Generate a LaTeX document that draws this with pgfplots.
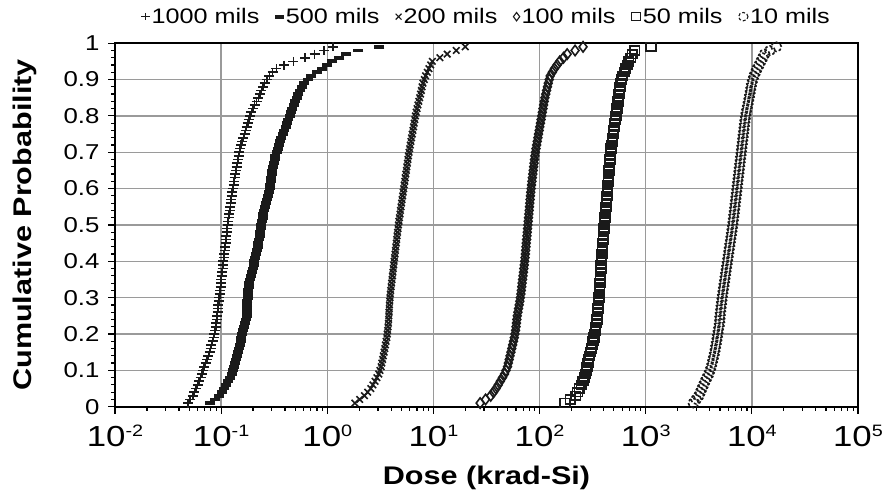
\documentclass[border=0pt]{standalone}
\usepackage{fontspec}
\setmainfont{Liberation Sans}[FakeStretch=1.2]
\usepackage{pgfplots}
\pgfplotsset{compat=1.18}
\definecolor{gridgray}{HTML}{9A9A9A}
\definecolor{markc}{HTML}{1A1A1A}
\newcommand{\tn}[1]{10\raisebox{10bp}{\fontsize{16.5bp}{16.5bp}\selectfont #1}}
\begin{document}
\begin{tikzpicture}
\useasboundingbox (0,0) rectangle (887bp,497bp);
\begin{axis}[
  at={(115bp,90.3bp)}, anchor=south west,
  scale only axis, width=743bp, height=363.5bp,
  xmode=log, xmin=1e-2, xmax=1e5, ymin=0, ymax=1,
  xtick={1e-2,1e-1,1e0,1e1,1e2,1e3,1e4,1e5},
  xticklabels={\tn{-2},\tn{-1},\tn{0},\tn{1},\tn{2},\tn{3},\tn{4},\tn{5}},
  ytick={0,0.1,0.2,0.3,0.4,0.5,0.6,0.7,0.8,0.9,1},
  yticklabels={0,0.1,0.2,0.3,0.4,0.5,0.6,0.7,0.8,0.9,1},
  minor y tick num=4,
  xtick pos=bottom, ytick pos=left,
  tick align=outside,
  major tick length=7bp, minor tick length=4bp,
  every tick/.style={black, line width=1.2bp},
  grid=major,
  major grid style={gridgray, line width=1.3bp},
  axis line style={black, line width=1.8bp},
  xticklabel style={font=\fontsize{29bp}{29bp}\selectfont, yshift=-8bp},
  yticklabel style={font=\fontsize{21.5bp}{21.5bp}\selectfont, xshift=-5bp},
  xlabel={Dose (krad-Si)},
  ylabel={Cumulative Probability},
  xlabel style={font=\fontsize{25.5bp}{25.5bp}\selectfont\bfseries, at={(axis description cs:0.5,-0.195)}, anchor=center},
  ylabel style={font=\fontsize{25.5bp}{25.5bp}\selectfont\bfseries, at={(axis description cs:-0.121,0.5)}, anchor=center},
  legend columns=6,
  legend style={draw=none, fill=none, at={(0.5,1)}, anchor=south, yshift=14bp,
    font=\fontsize{21bp}{21bp}\selectfont,
    /tikz/every even column/.append style={column sep=14bp},
    nodes={inner sep=2bp}},
  legend image code/.code={\draw[mark repeat=2,mark phase=2,#1,mark size=4.2bp,line width=1.1bp] plot coordinates {(0bp,0bp)(6bp,0bp)(12bp,0bp)};},
  every axis plot/.append style={only marks, markc, line width=1.6bp},
]
% 1000 mils
\addplot+[mark=+, mark size=5bp, mark options={markc, yscale=0.9}] coordinates {
(0.049,0.01)(0.051,0.02)(0.054,0.03)(0.056,0.04)(0.058,0.05)(0.060,0.06)(0.062,0.07)(0.064,0.08)(0.066,0.09)(0.0675,0.10)
(0.069,0.11)(0.0715,0.12)(0.074,0.13)(0.076,0.14)(0.078,0.15)(0.0795,0.16)(0.081,0.17)(0.083,0.18)(0.085,0.19)(0.0865,0.20)
(0.088,0.21)(0.089,0.22)(0.090,0.23)(0.091,0.24)(0.092,0.25)(0.0925,0.26)(0.093,0.27)(0.094,0.28)(0.095,0.29)(0.096,0.30)
(0.097,0.31)(0.098,0.32)(0.099,0.33)(0.0995,0.34)(0.100,0.35)(0.101,0.36)(0.102,0.37)(0.103,0.38)(0.104,0.39)(0.105,0.40)
(0.106,0.41)(0.107,0.42)(0.108,0.43)(0.109,0.44)(0.110,0.45)(0.111,0.46)(0.112,0.47)(0.113,0.48)(0.114,0.49)(0.115,0.50)
(0.116,0.51)(0.1175,0.52)(0.119,0.53)(0.1205,0.54)(0.122,0.55)(0.123,0.56)(0.124,0.57)(0.1255,0.58)(0.127,0.59)(0.129,0.60)
(0.131,0.61)(0.1325,0.62)(0.134,0.63)(0.136,0.64)(0.138,0.65)(0.140,0.66)(0.142,0.67)(0.144,0.68)(0.146,0.69)(0.1485,0.70)
(0.151,0.71)(0.1545,0.72)(0.158,0.73)(0.162,0.74)(0.166,0.75)(0.170,0.76)(0.174,0.77)(0.178,0.78)(0.182,0.79)(0.1875,0.80)
(0.193,0.81)(0.200,0.82)(0.207,0.83)(0.2155,0.84)(0.224,0.85)(0.232,0.86)(0.240,0.87)(0.2485,0.88)(0.257,0.89)(0.270,0.90)
(0.285,0.91)(0.305,0.92)(0.331,0.93)(0.39,0.94)(0.479,0.95)(0.62,0.96)(0.759,0.97)(0.93,0.98)(1.135,0.99)
};
\addlegendentry{1000 mils}
% 500 mils
\addplot+[mark=-, mark size=5bp, mark options={markc, line width=3.8bp}] coordinates {
(0.079,0.01)(0.087,0.02)(0.095,0.03)(0.101,0.04)(0.107,0.05)(0.1115,0.06)(0.116,0.07)(0.121,0.08)(0.126,0.09)(0.129,0.10)
(0.132,0.11)(0.135,0.12)(0.138,0.13)(0.1415,0.14)(0.145,0.15)(0.1475,0.16)(0.150,0.17)(0.1525,0.18)(0.155,0.19)(0.1585,0.20)
(0.162,0.21)(0.165,0.22)(0.168,0.23)(0.171,0.24)(0.174,0.25)(0.1745,0.26)(0.175,0.27)(0.176,0.28)(0.177,0.29)(0.178,0.30)
(0.179,0.31)(0.181,0.32)(0.183,0.33)(0.1845,0.34)(0.186,0.35)(0.190,0.36)(0.194,0.37)(0.198,0.38)(0.202,0.39)(0.206,0.40)
(0.210,0.41)(0.2135,0.42)(0.217,0.43)(0.2205,0.44)(0.224,0.45)(0.227,0.46)(0.230,0.47)(0.2335,0.48)(0.237,0.49)(0.240,0.50)
(0.243,0.51)(0.2465,0.52)(0.250,0.53)(0.2535,0.54)(0.257,0.55)(0.263,0.56)(0.269,0.57)(0.2755,0.58)(0.282,0.59)(0.2865,0.60)
(0.291,0.61)(0.2935,0.62)(0.296,0.63)(0.299,0.64)(0.302,0.65)(0.3075,0.66)(0.313,0.67)(0.319,0.68)(0.325,0.69)(0.3325,0.70)
(0.340,0.71)(0.350,0.72)(0.360,0.73)(0.370,0.74)(0.380,0.75)(0.392,0.76)(0.404,0.77)(0.4165,0.78)(0.429,0.79)(0.442,0.80)
(0.455,0.81)(0.469,0.82)(0.483,0.83)(0.498,0.84)(0.513,0.85)(0.535,0.86)(0.557,0.87)(0.581,0.88)(0.605,0.89)(0.655,0.90)
(0.708,0.91)(0.795,0.92)(0.891,0.93)(0.994,0.94)(1.109,0.95)(1.30,0.96)(1.514,0.97)(1.95,0.98)(3.10,0.99)
};
\addlegendentry{500 mils}
% 200 mils
\addplot+[mark=x, mark size=4.6bp, mark options={markc}] coordinates {
(1.820,0.01)(2.02,0.02)(2.239,0.03)(2.40,0.04)(2.570,0.05)(2.69,0.06)(2.818,0.07)(2.935,0.08)(3.055,0.09)(3.135,0.10)
(3.214,0.11)(3.265,0.12)(3.319,0.13)(3.373,0.14)(3.428,0.15)(3.48,0.16)(3.532,0.17)(3.585,0.18)(3.639,0.19)(3.673,0.20)
(3.707,0.21)(3.737,0.22)(3.767,0.23)(3.785,0.24)(3.802,0.25)(3.82,0.26)(3.837,0.27)(3.855,0.28)(3.873,0.29)(3.90,0.30)
(3.926,0.31)(3.962,0.32)(3.999,0.33)(4.036,0.34)(4.074,0.35)(4.112,0.36)(4.150,0.37)(4.188,0.38)(4.227,0.39)(4.266,0.40)
(4.305,0.41)(4.345,0.42)(4.385,0.43)(4.426,0.44)(4.467,0.45)(4.508,0.46)(4.550,0.47)(4.592,0.48)(4.634,0.49)(4.683,0.50)
(4.732,0.51)(4.787,0.52)(4.842,0.53)(4.898,0.54)(4.955,0.55)(5.012,0.56)(5.070,0.57)(5.129,0.58)(5.188,0.59)(5.248,0.60)
(5.309,0.61)(5.371,0.62)(5.433,0.63)(5.496,0.64)(5.559,0.65)(5.624,0.66)(5.689,0.67)(5.755,0.68)(5.821,0.69)(5.895,0.70)
(5.970,0.71)(6.054,0.72)(6.138,0.73)(6.224,0.74)(6.310,0.75)(6.398,0.76)(6.486,0.77)(6.577,0.78)(6.668,0.79)(6.777,0.80)
(6.887,0.81)(7.016,0.82)(7.145,0.83)(7.279,0.84)(7.413,0.85)(7.552,0.86)(7.691,0.87)(7.835,0.88)(7.980,0.89)(8.207,0.90)
(8.433,0.91)(8.755,0.92)(9.078,0.93)(9.425,0.94)(9.772,0.95)(11.5,0.96)(13.49,0.97)(16.4,0.98)(19.95,0.99)
};
\addlegendentry{200 mils}
% 100 mils
\addplot+[mark=diamond, mark size=5.2bp, mark options={markc}] coordinates {
(27.54,0.01)(31.0,0.02)(34.67,0.03)(36.8,0.04)(38.90,0.05)(40.8,0.06)(42.66,0.07)(44.7,0.08)(46.77,0.09)(48.3,0.10)
(49.89,0.11)(50.8,0.12)(51.76,0.13)(52.7,0.14)(53.70,0.15)(54.7,0.16)(55.72,0.17)(56.8,0.18)(57.81,0.19)(58.6,0.20)
(59.43,0.21)(60.0,0.22)(60.53,0.23)(61.1,0.24)(61.66,0.25)(62.5,0.26)(63.39,0.27)(64.3,0.28)(65.16,0.29)(65.9,0.30)
(66.68,0.31)(67.3,0.32)(67.92,0.33)(68.5,0.34)(69.18,0.35)(69.8,0.36)(70.47,0.37)(71.1,0.38)(71.78,0.39)(72.4,0.40)
(72.95,0.41)(73.5,0.42)(73.96,0.43)(74.5,0.44)(74.99,0.45)(75.5,0.46)(76.03,0.47)(76.6,0.48)(77.09,0.49)(77.6,0.50)
(78.16,0.51)(78.7,0.52)(79.25,0.53)(79.8,0.54)(80.35,0.55)(80.9,0.56)(81.47,0.57)(82.0,0.58)(82.60,0.59)(83.3,0.60)
(83.95,0.61)(84.7,0.62)(85.51,0.63)(86.3,0.64)(87.10,0.65)(87.9,0.66)(88.72,0.67)(89.5,0.68)(90.36,0.69)(91.4,0.70)
(92.47,0.71)(93.8,0.72)(95.06,0.73)(96.4,0.74)(97.72,0.75)(99.1,0.76)(100.5,0.77)(101.9,0.78)(103.3,0.79)(104.7,0.80)
(106.2,0.81)(107.6,0.82)(109.1,0.83)(110.6,0.84)(112.2,0.85)(114.3,0.86)(116.4,0.87)(118.6,0.88)(120.8,0.89)(123.3,0.90)
(125.9,0.91)(131.8,0.92)(138.0,0.93)(146.2,0.94)(154.9,0.95)(168.0,0.96)(182.0,0.97)(216.0,0.98)(257.0,0.99)
};
\addlegendentry{100 mils}
% 50 mils
\addplot+[mark=square, mark size=4.4bp, mark options={markc, xscale=1.1}] coordinates {
(173.8,0.01)(195.0,0.02)(218.8,0.03)(227.8,0.04)(237.1,0.05)(246.9,0.06)(257.0,0.07)(264.2,0.08)(271.6,0.09)(276.0,0.10)
(280.5,0.11)(285.8,0.12)(291.1,0.13)(296.5,0.14)(302.0,0.15)(307.6,0.16)(313.3,0.17)(319.2,0.18)(325.1,0.19)(329.6,0.20)
(334.2,0.21)(338.9,0.22)(343.6,0.23)(346.7,0.24)(349.9,0.25)(352.3,0.26)(354.8,0.27)(357.2,0.28)(359.7,0.29)(362.2,0.30)
(364.8,0.31)(367.3,0.32)(369.8,0.33)(371.5,0.34)(373.3,0.35)(375.0,0.36)(376.7,0.37)(378.4,0.38)(380.2,0.39)(381.9,0.40)
(383.7,0.41)(386.3,0.42)(389.0,0.43)(391.7,0.44)(394.5,0.45)(397.2,0.46)(399.9,0.47)(402.7,0.48)(405.5,0.49)(408.3,0.50)
(411.1,0.51)(414.0,0.52)(416.9,0.53)(419.8,0.54)(422.7,0.55)(425.6,0.56)(428.5,0.57)(431.5,0.58)(434.5,0.59)(437.0,0.60)
(439.5,0.61)(442.6,0.62)(445.7,0.63)(448.8,0.64)(451.9,0.65)(455.0,0.66)(458.1,0.67)(461.3,0.68)(464.5,0.69)(468.3,0.70)
(472.1,0.71)(477.6,0.72)(483.1,0.73)(488.7,0.74)(494.3,0.75)(500.0,0.76)(505.8,0.77)(511.7,0.78)(517.6,0.79)(523.6,0.80)
(529.7,0.81)(535.8,0.82)(542.0,0.83)(548.3,0.84)(554.6,0.85)(561.0,0.86)(567.5,0.87)(574.1,0.88)(580.8,0.89)(593.0,0.90)
(605.3,0.91)(626.6,0.92)(648.6,0.93)(670.0,0.94)(691.8,0.95)(720.0,0.96)(749.9,0.97)(790.0,0.98)(1122,0.99)
};
\addlegendentry{50 mils}
% 10 mils
\addplot+[mark=o, mark size=4.6bp, mark options={markc, xscale=1.12}] coordinates {
(2818,0.01)(2985,0.02)(3162,0.03)(3273,0.04)(3388,0.05)(3508,0.06)(3631,0.07)(3776,0.08)(3926,0.09)(4036,0.10)
(4150,0.11)(4227,0.12)(4305,0.13)(4385,0.14)(4467,0.15)(4529,0.16)(4592,0.17)(4656,0.18)(4721,0.19)(4775,0.20)
(4831,0.21)(4898,0.22)(4966,0.23)(4989,0.24)(5012,0.25)(5058,0.26)(5105,0.27)(5152,0.28)(5200,0.29)(5254,0.30)
(5309,0.31)(5370,0.32)(5433,0.33)(5495,0.34)(5559,0.35)(5623,0.36)(5689,0.37)(5754,0.38)(5821,0.39)(5888,0.40)
(5957,0.41)(6025,0.42)(6095,0.43)(6166,0.44)(6237,0.45)(6310,0.46)(6383,0.47)(6457,0.48)(6531,0.49)(6599,0.50)
(6668,0.51)(6730,0.52)(6792,0.53)(6855,0.54)(6918,0.55)(6982,0.56)(7047,0.57)(7112,0.58)(7178,0.59)(7244,0.60)
(7311,0.61)(7379,0.62)(7447,0.63)(7516,0.64)(7586,0.65)(7656,0.66)(7727,0.67)(7798,0.68)(7870,0.69)(7943,0.70)
(8017,0.71)(8091,0.72)(8166,0.73)(8241,0.74)(8318,0.75)(8395,0.76)(8472,0.77)(8551,0.78)(8630,0.79)(8740,0.80)
(8851,0.81)(8995,0.82)(9141,0.83)(9290,0.84)(9441,0.85)(9572,0.86)(9705,0.87)(9840,0.88)(9977,0.89)(10220,0.90)
(10470,0.91)(10840,0.92)(11220,0.93)(11690,0.94)(12160,0.95)(12660,0.96)(13180,0.97)(14800,0.98)(16980,0.99)
};
\addlegendentry{10 mils}
\end{axis}
\end{tikzpicture}
\end{document}
